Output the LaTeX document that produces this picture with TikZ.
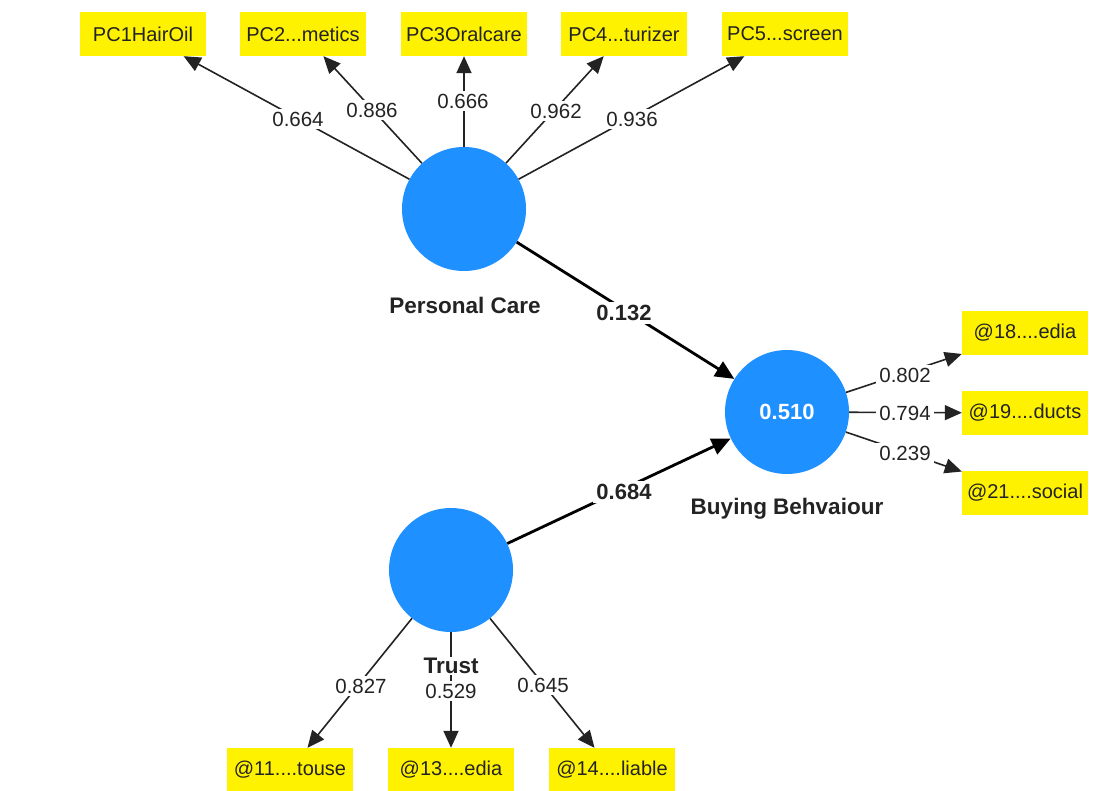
\documentclass[tikz,border=0pt]{standalone}
\usepackage{fontspec}
\setmainfont{Liberation Sans}
\usetikzlibrary{arrows.meta}
\definecolor{lvblue}{RGB}{30,144,255}
\definecolor{ink}{RGB}{35,35,35}
\begin{document}
\begin{tikzpicture}[x=1pt,y=-1pt,
  latent/.style={circle, fill=lvblue, minimum size=124pt, inner sep=0pt},
  ind/.style={fill=yellow, minimum width=126pt, minimum height=44pt, inner sep=0pt, text=ink, font=\fontsize{20}{23}\selectfont},
  load/.style={draw=ink, line width=1.6pt, -{Triangle[length=17pt,width=15pt]}},
  pathc/.style={draw=black, line width=2.8pt, -{Triangle[length=19pt,width=17pt]}},
  lbl/.style={fill=white, inner sep=3pt, text=ink, font=\fontsize{20.5}{23}\selectfont},
  blbl/.style={fill=white, inner sep=3pt, text=ink, font=\fontsize{22}{25}\selectfont\bfseries},
  vname/.style={text=ink, font=\fontsize{22.5}{25}\selectfont\bfseries, inner sep=1pt}]
\useasboundingbox[fill=white] (0,0) rectangle (1105,791);
% latent variables
\node[latent] (pc) at (464,209) {};
\node[latent] (bb) at (787,412) {\color{white}\fontsize{22}{25}\selectfont\bfseries 0.510};
\node[latent] (tr) at (451,570) {};
% indicators
\node[ind] (b1) at (143,34) {PC1HairOil};
\node[ind] (b2) at (303,34) {PC2...metics};
\node[ind] (b3) at (464,34) {PC3Oralcare};
\node[ind] (b4) at (624,34) {PC4...turizer};
\node[ind] (b5) at (785,34) {PC5...screen};
\node[ind] (r1) at (1025,333) {@18....edia};
\node[ind] (r2) at (1025,413) {@19....ducts};
\node[ind] (r3) at (1025,493) {@21....social};
\node[ind, minimum height=43pt] (d1) at (290,769.5) {@11....touse};
\node[ind, minimum height=43pt] (d2) at (451,769.5) {@13....edia};
\node[ind, minimum height=43pt] (d3) at (612,769.5) {@14....liable};
% connectors
\draw[load] (pc) -- (b1);
\draw[load] (pc) -- (b2);
\draw[load] (pc) -- (b3);
\draw[load] (pc) -- (b4);
\draw[load] (pc) -- (b5);
\draw[load] (bb) -- (r1);
\draw[load] (bb) -- (r2);
\draw[load] (bb) -- (r3);
\draw[load] (tr) -- (d1);
\draw[load] (tr) -- (d2);
\draw[load] (tr) -- (d3);
\draw[pathc] (pc) -- (bb);
\draw[pathc] (tr) -- (bb);
% labels
\node[lbl] (l1) at (298,119) {0.664};
\node[lbl] (l2) at (372,110) {0.886};
\node[lbl] (l3) at (463,101) {0.666};
\node[lbl] (l4) at (556,111) {0.962};
\node[lbl] (l5) at (632,119) {0.936};
\node[lbl] (l6) at (905,375) {0.802};
\node[lbl] (l7) at (905,413) {0.794};
\node[lbl] (l8) at (905,453) {0.239};
\node[lbl] (l9) at (361,686) {0.827};
\node[lbl] (l10) at (451,691) {0.529};
\node[lbl] (l11) at (543,685) {0.645};
\node[blbl] (p1) at (624,313) {0.132};
\node[blbl] (p2) at (624,492) {0.684};
% variable names
\node[vname] (npc) at (465,305) {Personal Care};
\node[vname] (nbb) at (787,509) {Buying Behvaiour};
\node[vname, fill=white] (ntr) at (451,666) {Trust};
\end{tikzpicture}
\end{document}
